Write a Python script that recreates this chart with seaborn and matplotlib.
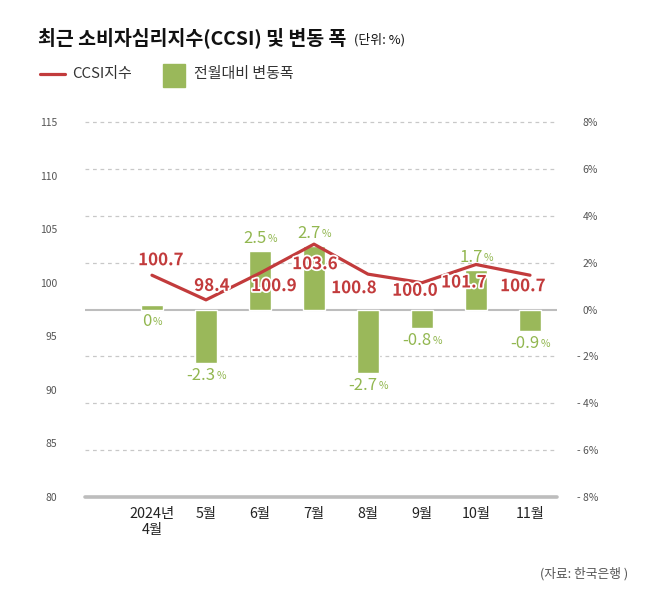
import numpy as np
import pandas as pd
import matplotlib
matplotlib.use("Agg")
import matplotlib.pyplot as plt
import matplotlib.patheffects as pe
from matplotlib.lines import Line2D
from matplotlib.patches import Rectangle
import seaborn as sns

# ---------------- data ----------------
months = ["2024년\n4월", "5월", "6월", "7월", "8월", "9월", "10월", "11월"]
ccsi = [100.7, 98.4, 100.9, 103.6, 100.8, 100.0, 101.7, 100.7]
change = [0.2, -2.3, 2.5, 2.7, -2.7, -0.8, 1.7, -0.9]
change_labels = ["0", "-2.3", "2.5", "2.7", "-2.7", "-0.8", "1.7", "-0.9"]
left_ticks = [80, 85, 90, 95, 100, 105, 110, 115]
right_ticks = [-8, -6, -4, -2, 0, 2, 4, 6, 8]
right_tick_labels = ["- 8%", "- 6%", "- 4%", "- 2%", "0%", "2%", "4%", "6%", "8%"]

# ---------------- style ----------------
GREEN = "#9ab85a"
GREEN_TXT = "#92b750"
RED = "#c23b3c"
GRID = "#c8c8c8"
AXLINE = "#bdbdbd"
# label offsets in pixels (dx, dy up) relative to line points
red_offsets = [(9, 15), (6, 14), (14, -13), (1, -20), (-14, -14), (-7, -8), (-12, -18), (-7, -11)]

sns.set_theme(style="white")
plt.rcParams['font.family'] = ['Noto Sans CJK KR', 'DejaVu Sans']

W, H = 655, 593
fig = plt.figure(figsize=(W / 100, H / 100), dpi=100)
ax = fig.add_axes([85 / W, 96 / H, 472 / W, 375 / H])

df = pd.DataFrame({"month": months, "change": change, "ccsi": ccsi})
sns.barplot(data=df, x="month", y="change", ax=ax, color=GREEN,
            saturation=1, width=0.4, zorder=3)
n = len(months)
ax.set_xlim(-1.24, n - 0.5)
ax.set_ylim(-8, 8)

for s in ax.spines.values():
    s.set_visible(False)
ax.set_xlabel("")
ax.set_ylabel("")

# grid lines on right-axis ticks
for t in right_ticks:
    if t == -8:
        ax.axhline(t, color=AXLINE, lw=2.6, zorder=2, clip_on=False)
    elif t == 0:
        ax.axhline(t, color=AXLINE, lw=1.5, zorder=2)
    else:
        ax.axhline(t, color=GRID, lw=0.9, ls=(0, (3, 3)), zorder=1, clip_on=False)

ax.set_xticks(range(n))
ax.set_xticklabels(months, linespacing=1.2)
ax.tick_params(axis="x", length=0, pad=7, labelsize=10.3, labelcolor="#222222")

# line on left axis
ax2 = ax.twinx()
sns.lineplot(x=np.arange(n), y=ccsi, ax=ax2, color=RED, lw=2.3, zorder=4)
ax2.set_ylim(80, 115)
ax2.set_xlim(-1.24, n - 0.5)
ax2.yaxis.tick_left()
ax2.set_yticks(left_ticks)
ax2.set_yticklabels([str(v) for v in left_ticks])
ax2.tick_params(axis="y", length=0, pad=20, labelsize=7.5, labelcolor="#555555")
for s in ax2.spines.values():
    s.set_visible(False)
ax2.set_ylabel("")
ax2.grid(False)

# right axis for the change bars (set after twinx, which moves ticks)
ax.yaxis.tick_right()
ax.set_yticks(right_ticks)
ax.set_yticklabels(right_tick_labels, ha="right")
ax.tick_params(axis="y", which="both", left=False, right=False, labelleft=False,
               labelright=True, length=0, pad=29.5, labelsize=7.5,
               labelcolor="#555555")

halo = [pe.withStroke(linewidth=2.5, foreground="white")]

# red labels
for i, v in enumerate(ccsi):
    dx, dy = red_offsets[i]
    ax2.annotate(f"{v:.1f}", (i, v), xytext=(dx, dy), textcoords="offset pixels",
                 ha="center", va="center", fontsize=12.2, fontweight="bold",
                 color=RED, path_effects=halo, zorder=6)

# green labels
for i, (v, lab) in enumerate(zip(change, change_labels)):
    lv = float(lab)
    if lv > 0:
        yv, dy, va = v, 4, "bottom"
    else:
        yv, dy, va = (v if lv < 0 else 0), -4, "top"
    t = ax.annotate(lab, (i, yv), xytext=(-5, dy), textcoords="offset pixels",
                    ha="center", va=va, fontsize=12, fontweight=500,
                    color=GREEN_TXT, zorder=5)
    ax.annotate("%", xy=(1, 0.18), xycoords=t, xytext=(1, 0),
                textcoords="offset pixels", ha="left", va="bottom",
                fontsize=7.5, color=GREEN_TXT, zorder=5)

# title
fig.text(38 / W, 1 - 38 / H, "최근 소비자심리지수(CCSI) 및 변동 폭", fontsize=14,
         fontweight="bold", color="#111111", ha="left", va="center")
fig.text(354 / W, 1 - 39.5 / H, "(단위: %)", fontsize=9.3, color="#111111",
         ha="left", va="center")

# legend
fig.add_artist(Line2D([40 / W, 65 / W], [1 - 74 / H, 1 - 74 / H], color=RED, lw=2.3,
                      transform=fig.transFigure))
fig.text(72 / W, 1 - 74 / H, "CCSI지수", fontsize=10.8, color="#333333",
         ha="left", va="center")
fig.add_artist(Rectangle((163 / W, 1 - 87 / H), 22 / W, 23 / H, color=GREEN,
                         transform=fig.transFigure))
fig.text(194 / W, 1 - 74 / H, "전월대비 변동폭", fontsize=10.8, color="#333333",
         ha="left", va="center")

# source
fig.text(628 / W, 1 - 574 / H, "(자료: 한국은행 )", fontsize=9.2, color="#555555",
         ha="right", va="center")

fig.savefig("out.png", dpi=100, facecolor="white")
